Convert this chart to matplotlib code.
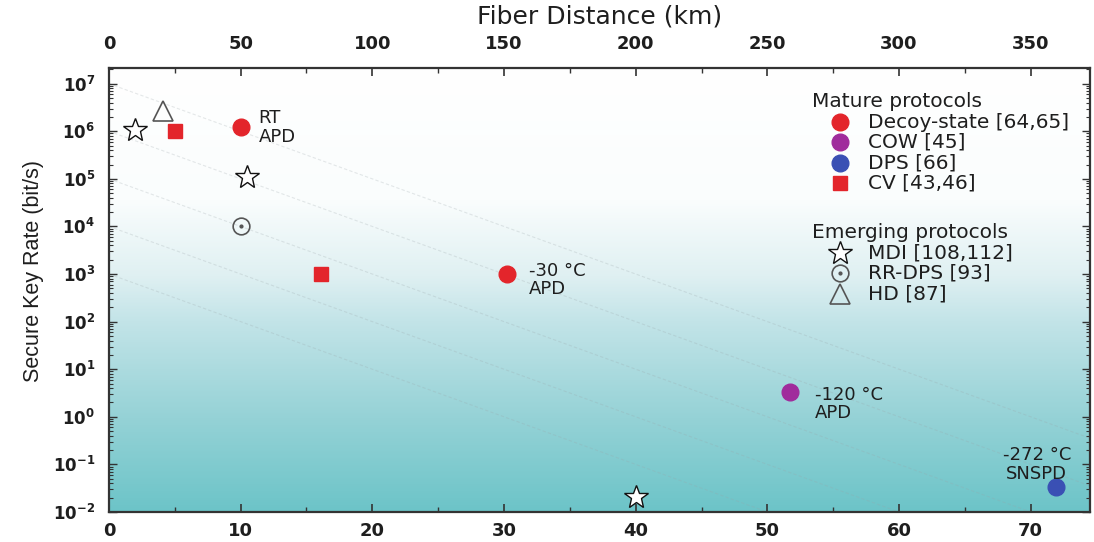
import numpy as np
import matplotlib
matplotlib.use("Agg")
import matplotlib.pyplot as plt
from matplotlib.colors import LinearSegmentedColormap
from matplotlib.ticker import MultipleLocator, LogLocator, FixedLocator, NullFormatter, FuncFormatter

# ── data (x = channel loss in dB, y = secure key rate in bit/s) ──────────────
decoy_x = [10.0, 30.2]
decoy_y = [1.2e6, 1.0e3]
cow_x = [51.7]
cow_y = [3.3]
dps_x = [71.9]
dps_y = [0.033]
cv_x = [5.0, 16.1]
cv_y = [1.0e6, 1.0e3]
mdi_x = [2.0, 10.5, 40.0]
mdi_y = [1.07e6, 1.1e5, 0.0205]
rrdps_x = [10.0]
rrdps_y = [1.0e4]
hd_x = [4.1]
hd_y = [2.7e6]

# detector notes: (x, y, text, offset px, ha)
notes_x = [10.0, 30.2, 51.7, 71.9]
notes_y = [1.2e6, 1.0e3, 3.3, 0.033]
notes_txt = ["RT\nAPD", "-30 °C\nAPD", "-120 °C\nAPD", "-272 °C\nSNSPD"]
notes_off = [(18, 0), (22, -6), (25, -12), (-19, 23)]
notes_ha = ["left", "left", "left", "center"]

# faint guide lines: rate = 10^(c - 0.1 * loss)
guide_c = [7, 6, 5, 4, 3]
KM_PER_DB = 5.0   # 0.2 dB/km fibre

C = {
    "red":    "#e3252b",
    "purple": "#a02c9c",
    "blue":   "#3a50b4",
    "grey":   "#555555",
    "text":   "#1e1e1e",
    "spine":  "#333333",
}
FONT = "DejaVu Sans"

fig = plt.figure(figsize=(10.94, 5.42), dpi=100)
ax = fig.add_axes([0.0996, 0.0554, 0.8967, 0.8192])
ax.set_yscale("log")
ax.set_xlim(0, 74.5)
ax.set_ylim(1e-2, 10 ** 7.33)

# background gradient (white top -> teal bottom)
stops = [(0.0, "#6cc4c8"), (0.21, "#95d2d6"), (0.43, "#c3e4e8"),
         (0.53, "#dff0f2"), (0.70, "#fafdfd"), (1.0, "#ffffff")]
cmap = LinearSegmentedColormap.from_list("bg", stops)
grad = np.linspace(0, 1, 256)[:, None]
ax.imshow(grad, cmap=cmap, aspect="auto", origin="lower",
          extent=[0, 1, 0, 1], transform=ax.transAxes, zorder=0)

xs = np.linspace(0, 74.5, 200)
for c in guide_c:
    ax.plot(xs, 10 ** (c - 0.1 * xs), color="#9aa4a8", lw=0.8,
            ls=(0, (3, 2)), alpha=0.25, zorder=1)

# ── markers ──────────────────────────────────────────────────────────────────
ax.plot(decoy_x, decoy_y, "o", ms=12, color=C["red"], mec=C["red"], zorder=3)
ax.plot(cow_x, cow_y, "o", ms=12, color=C["purple"], mec=C["purple"], zorder=3)
ax.plot(dps_x, dps_y, "o", ms=12, color=C["blue"], mec=C["blue"], zorder=3)
ax.plot(cv_x, cv_y, "s", ms=10, color=C["red"], mec=C["red"], zorder=3)
ax.plot(mdi_x, mdi_y, "*", ms=18, mfc="white", mec="#111111", mew=1.0, zorder=3)
ax.plot(rrdps_x, rrdps_y, "o", ms=12, mfc="none", mec=C["grey"], mew=1.2, zorder=3)
ax.plot(rrdps_x, rrdps_y, "o", ms=2, color=C["grey"], zorder=3)
ax.plot(hd_x, hd_y, "^", ms=14, mfc="none", mec=C["grey"], mew=1.2, zorder=3)

for x, y, t, off, ha in zip(notes_x, notes_y, notes_txt, notes_off, notes_ha):
    ax.annotate(t, xy=(x, y), xytext=off, textcoords="offset pixels",
                ha=ha, va="center", multialignment="center" if ha == "center" else "left",
                fontsize=13, family=FONT, color=C["text"], linespacing=1.05, zorder=4)

# ── axes styling ─────────────────────────────────────────────────────────────
for s in ax.spines.values():
    s.set_edgecolor(C["spine"])
    s.set_linewidth(1.6)
    s.set_zorder(5)

ax.xaxis.set_major_locator(MultipleLocator(10))
ax.xaxis.set_minor_locator(MultipleLocator(5))
ax.yaxis.set_major_locator(FixedLocator(10.0 ** np.arange(-2, 8)))
ax.yaxis.set_minor_locator(LogLocator(base=10, subs=np.arange(2, 10), numticks=20))
ax.yaxis.set_minor_formatter(NullFormatter())
ax.yaxis.set_major_formatter(FuncFormatter(
    lambda v, p: r"$\mathbf{10^{%d}}$" % round(np.log10(v))))
ax.tick_params(axis="both", which="both", direction="in", color=C["spine"])
ax.tick_params(axis="x", which="major", length=6, width=1.2, pad=7,
               labelsize=13, labelcolor=C["text"])
ax.tick_params(axis="x", which="minor", length=3.5, width=1.0)
ax.tick_params(axis="y", which="major", length=6, width=1.0, pad=10,
               labelsize=12, labelcolor=C["text"], right=True)
ax.tick_params(axis="y", which="minor", length=3, width=0.8, right=True)
for lab in ax.get_xticklabels():
    lab.set_fontfamily(FONT)
    lab.set_fontweight("bold")

ax.set_ylabel("Secure Key Rate (bit/s)", fontsize=15.5, color=C["text"],
              family=["Liberation Sans Narrow", "Liberation Sans"])
ax.yaxis.set_label_coords(-0.066, 0.543)

secax = ax.secondary_xaxis("top", functions=(lambda d: d * KM_PER_DB,
                                             lambda km: km / KM_PER_DB))
secax.xaxis.set_major_locator(FixedLocator(np.arange(0, 351, 50)))
secax.xaxis.set_minor_locator(FixedLocator(np.arange(0, 375, 25)))
secax.tick_params(axis="x", which="both", direction="in", color=C["spine"])
secax.tick_params(axis="x", which="major", length=6, width=1.2, pad=11,
                  labelsize=13, labelcolor=C["text"])
secax.tick_params(axis="x", which="minor", length=3.5, width=1.0)
for lab in secax.get_xticklabels():
    lab.set_fontfamily(FONT)
    lab.set_fontweight("bold")
secax.set_xlabel("Fiber Distance (km)", fontsize=18, family=FONT,
                 color=C["text"], labelpad=8)
secax.spines["top"].set_visible(False)

# ── legend, drawn by hand in axes fraction ───────────────────────────────────
groups = [
    ("Mature protocols", [
        ("Decoy-state [64,65]", dict(marker="o", ms=12, color=C["red"])),
        ("COW [45]", dict(marker="o", ms=12, color=C["purple"])),
        ("DPS [66]", dict(marker="o", ms=12, color=C["blue"])),
        ("CV [43,46]", dict(marker="s", ms=10, color=C["red"])),
    ]),
    ("Emerging protocols", [
        ("MDI [108,112]", dict(marker="*", ms=18, mfc="white", mec="#111111", mew=1.0)),
        ("RR-DPS [93]", dict(marker="o", ms=12, mfc="none", mec=C["grey"], mew=1.2)),
        ("HD [87]", dict(marker="^", ms=14, mfc="none", mec=C["grey"], mew=1.2)),
    ]),
]
head_y = [0.9234, 0.6284]
row_step = 0.0455
tr = ax.transAxes
for (title, rows), hy in zip(groups, head_y):
    ax.text(0.7166, hy, title, transform=tr, fontsize=14.5, family=FONT,
            color=C["text"], va="center", ha="left", zorder=6)
    for i, (label, style) in enumerate(rows):
        ry = hy - row_step * (i + 1)
        ax.plot([0.7452], [ry], transform=tr, ls="none", zorder=6,
                clip_on=False, **style)
        if label.startswith("RR-DPS"):
            ax.plot([0.7452], [ry], "o", ms=2, color=C["grey"],
                    transform=tr, zorder=6)
        ax.text(0.7737, ry, label, transform=tr, fontsize=14.5, family=FONT,
                color=C["text"], va="center", ha="left", zorder=6)

fig.savefig("out.png", dpi=100, facecolor="white")
